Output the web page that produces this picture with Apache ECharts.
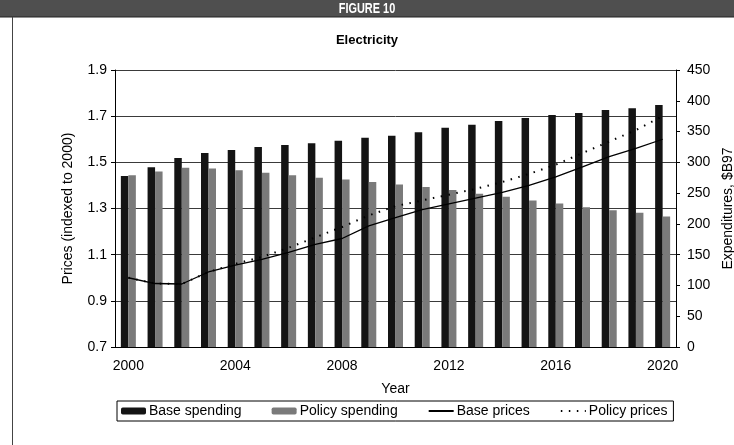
<!DOCTYPE html>
<html>
<head>
<meta charset="utf-8">
<script src="https://cdn.jsdelivr.net/npm/echarts@6/dist/echarts.min.js"></script>
<style>
  html, body { margin: 0; padding: 0; background: #fff; }
  #chart { width: 734px; height: 445px; }
</style>
</head>
<body>
<div id="chart"></div>
<script>
// Electricity: spending (bars, $B97) and price indices (lines), 2000-2020
const years = ['2000','2001','2002','2003','2004','2005','2006','2007','2008','2009','2010',
               '2011','2012','2013','2014','2015','2016','2017','2018','2019','2020'];

const baseSpending   = [278, 292, 307, 315, 320, 325, 328, 331, 335, 340, 343,
                        349, 356, 361, 367, 372, 377, 380, 385, 388, 393];
const policySpending = [279, 285, 291, 290, 287, 283, 279, 275, 272, 268, 264,
                        260, 255, 249, 244, 238, 233, 227, 222, 218, 212];

const basePrices   = [1.00, 0.975, 0.973, 1.025, 1.055, 1.08, 1.11, 1.145, 1.17, 1.225, 1.26,
                      1.295, 1.32, 1.345, 1.37, 1.40, 1.437, 1.48, 1.525, 1.56, 1.60];
const policyPrices = [1.00, 0.975, 0.973, 1.025, 1.06, 1.09, 1.13, 1.175, 1.22, 1.27, 1.31,
                      1.335, 1.36, 1.385, 1.415, 1.45, 1.49, 1.54, 1.59, 1.64, 1.70];

const FONT = '"Liberation Sans", Arial, sans-serif';
const FS = 14;

// legend entries for the price lines show only the stroke, no marker
const hiddenMarker = { color: 'rgba(0,0,0,0)', borderColor: 'rgba(0,0,0,0)', borderWidth: 0 };

const chart = echarts.init(document.getElementById('chart'), null, { renderer: 'canvas' });

chart.setOption({
  backgroundColor: '#ffffff',
  animation: false,
  textStyle: { fontFamily: FONT, color: '#000' },
  graphic: [
    { type: 'rect', shape: { x: 0, y: 0, width: 734, height: 17 },
      style: { fill: '#4f4f4f' }, silent: true },
    { type: 'line', shape: { x1: 0, y1: 17, x2: 734, y2: 17 },
      style: { stroke: '#222', lineWidth: 1 }, silent: true },
    { type: 'line', shape: { x1: 12.5, y1: 17, x2: 12.5, y2: 445 },
      style: { stroke: '#444', lineWidth: 1 }, silent: true },
    { type: 'text', x: 367, y: 9, scaleX: 0.78,
      style: { text: 'FIGURE 10', fill: '#fff', font: 'bold 14px ' + FONT,
               align: 'center', verticalAlign: 'middle' } }
  ],
  title: {
    text: 'Electricity',
    left: 'center',
    top: 29,
    textStyle: { fontFamily: FONT, fontSize: 13, fontWeight: 'bold', color: '#000' }
  },
  legend: {
    left: 117,
    top: 401,
    padding: [3, 6, 3, 4],
    itemGap: 30,
    itemWidth: 25,
    itemHeight: 7,
    borderColor: '#000',
    borderWidth: 1,
    textStyle: { fontFamily: FONT, fontSize: FS, color: '#000', padding: [0, 0, 0, -2] },
    data: [
      { name: 'Base spending' },
      { name: 'Policy spending' },
      { name: 'Base prices', itemStyle: hiddenMarker },
      { name: 'Policy prices', itemStyle: hiddenMarker }
    ]
  },
  grid: { left: 115, right: 58, top: 70, bottom: 98, outerBoundsMode: 'none' },
  xAxis: {
    type: 'category',
    data: years,
    boundaryGap: true,
    name: 'Year',
    nameLocation: 'middle',
    nameGap: 35,
    nameTextStyle: { fontFamily: FONT, fontSize: FS, color: '#000' },
    axisLine: { lineStyle: { color: '#000', width: 1 } },
    axisTick: { interval: 3, length: 5, lineStyle: { color: '#000' } },
    axisLabel: { interval: 3, margin: 12, fontFamily: FONT, fontSize: FS, color: '#000' },
    splitLine: { show: false }
  },
  yAxis: [
    {
      type: 'value',
      min: 0.7,
      max: 1.9,
      interval: 0.2,
      name: 'Prices (indexed to 2000)',
      nameLocation: 'middle',
      nameRotate: 90,
      nameGap: 40,
      nameTextStyle: { fontFamily: FONT, fontSize: FS, color: '#000' },
      axisLine: { show: true, lineStyle: { color: '#000', width: 1 } },
      axisTick: { show: true, length: 4, lineStyle: { color: '#000' } },
      axisLabel: { margin: 8, fontFamily: FONT, fontSize: FS, color: '#000',
                   formatter: v => v.toFixed(1) },
      splitLine: { show: true, lineStyle: { color: '#3a3a3a', width: 1 } }
    },
    {
      type: 'value',
      min: 0,
      max: 450,
      interval: 50,
      name: 'Expenditures, $B97',
      nameLocation: 'middle',
      nameRotate: 90,
      nameGap: 44,
      nameTextStyle: { fontFamily: FONT, fontSize: FS, color: '#000' },
      axisLine: { show: true, lineStyle: { color: '#000', width: 1 } },
      axisTick: { show: true, length: 4, lineStyle: { color: '#000' } },
      axisLabel: { margin: 11, fontFamily: FONT, fontSize: FS, color: '#000' },
      splitLine: { show: false }
    }
  ],
  series: [
    {
      name: 'Base spending',
      type: 'bar',
      yAxisIndex: 1,
      data: baseSpending,
      barWidth: 7.5,
      barGap: '0%',
      itemStyle: { color: '#141414' }
    },
    {
      name: 'Policy spending',
      type: 'bar',
      yAxisIndex: 1,
      data: policySpending,
      barWidth: 7.5,
      barGap: '0%',
      itemStyle: { color: '#7a7a7a' }
    },
    {
      name: 'Base prices',
      type: 'line',
      yAxisIndex: 0,
      data: basePrices,
      symbol: 'none',
      lineStyle: { color: '#000', width: 1.3 },
      itemStyle: { color: '#000' },
      z: 5
    },
    {
      name: 'Policy prices',
      type: 'line',
      yAxisIndex: 0,
      data: policyPrices,
      symbol: 'none',
      lineStyle: { color: '#000', width: 2, type: [1.5, 6.5] },
      itemStyle: { color: '#000' },
      z: 4
    }
  ]
});
</script>
</body>
</html>
